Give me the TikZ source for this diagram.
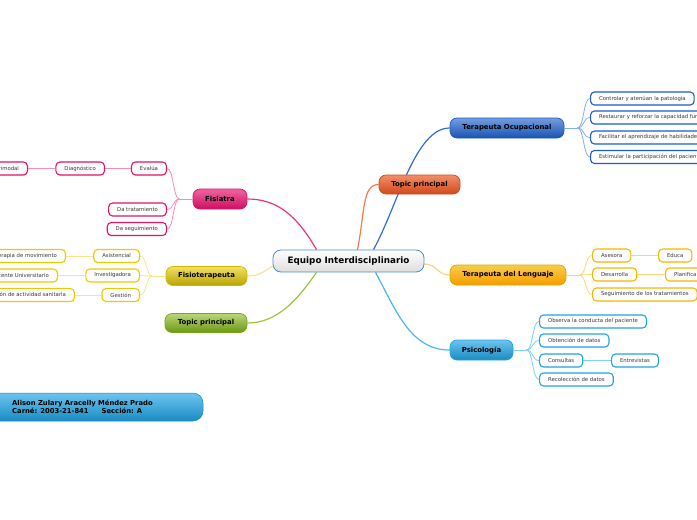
\documentclass[tikz,border=0pt]{standalone}
\usepackage{fontspec}
\setmainfont{DejaVu Sans}
\usetikzlibrary{backgrounds}
\definecolor{toB}{HTML}{1A5CC8}
\definecolor{toL}{HTML}{7FAEEF}
\definecolor{orB}{HTML}{D04A1C}
\definecolor{orL}{HTML}{F27A4E}
\definecolor{tlB}{HTML}{F5B800}
\definecolor{tlL}{HTML}{FBD47E}
\definecolor{psB}{HTML}{1EA4E6}
\definecolor{psL}{HTML}{7ED0F6}
\definecolor{fiB}{HTML}{E4106C}
\definecolor{fiL}{HTML}{F68DB6}
\definecolor{ftB}{HTML}{E8CC00}
\definecolor{ftL}{HTML}{F6E58C}
\definecolor{grB}{HTML}{78A818}
\definecolor{grL}{HTML}{9CC63A}
\definecolor{ctB}{HTML}{4A8CC8}
\begin{document}
\begin{tikzpicture}[x=1pt,y=-1pt,
  topic/.style={rounded corners=7pt, minimum height=20pt, inner sep=0pt,
    font=\fontsize{6.9}{8}\selectfont\bfseries, line width=0.7pt},
  sub/.style={rounded corners=4pt, minimum height=13pt, inner xsep=8.5pt, inner ysep=0pt,
    fill=white, line width=1.1pt, font=\fontsize{5.35}{6}\selectfont, text=black!78},
  mainline/.style={line width=1.2pt},
  subline/.style={line width=0.8pt}]
\useasboundingbox (0,0) rectangle (697,520);
\clip (0,0) rectangle (697,520);

% central
\node[rounded corners=8pt, minimum width=151pt, minimum height=22pt, inner sep=0pt,
  top color=white, bottom color=black!13, draw=ctB, line width=0.8pt,
  font=\fontsize{8.8}{10}\selectfont\bfseries] (c) at (348.5,261) {Equipo Interdisciplinario};

% main topics
\node[topic, minimum width=114pt, top color=toB!60!white, bottom color=toB!90!black, draw=toB] (to) at (507,128) {Terapeuta Ocupacional};
\node[topic, minimum width=81pt, minimum height=19pt, top color=orL!85!white, bottom color=orB, draw=orB] (op) at (419.5,184.5) {Topic principal};
\node[topic, minimum width=116pt, top color=tlB!70!white, bottom color=tlB!85!red, draw=tlB!90!black] (tl) at (508,275) {Terapeuta del Lenguaje};
\node[topic, minimum width=63pt, top color=psB!65!white, bottom color=psB!85!black, draw=psB] (ps) at (481.5,350) {Psicología};
\node[topic, minimum width=54pt, top color=fiB!65!white, bottom color=fiB!90!black, draw=fiB] (fi) at (220,199) {Fisiatra};
\node[topic, minimum width=81pt, minimum height=19pt, top color=ftB!60!white, bottom color=ftB!80!black, draw=ftB!90!black] (ft) at (206.5,276) {Fisioterapeuta};
\node[topic, minimum width=82pt, minimum height=19pt, top color=grL!70!white, bottom color=grB!90!black, draw=grB] (gr) at (206,323) {Topic principal};

% author box
\node[rounded corners=10pt, minimum width=213pt, minimum height=28pt, inner sep=0pt,
  top color=psB!65!white, bottom color=psB!85!black, draw=psB!85!black, line width=0.5pt] (au) at (96.5,407) {};
\node[anchor=west, align=left, inner sep=0pt, font=\fontsize{6.8}{8.4}\selectfont\bfseries] (aut) at (12,407)
  {Alison Zulary Aracelly Méndez Prado\\Carné: 2003-21-841\hspace{13pt}Sección: A};

% main connectors (behind nodes)
\begin{pgfonlayer}{background}
\draw[mainline, toB!90!white] ([xshift=25pt]c.north) .. controls (398,205) and (415,128) .. (to.west);
\draw[mainline, orL] ([xshift=9pt]c.north) .. controls (365,212) and (362,184.5) .. (op.west);
\draw[mainline, tlL] ([yshift=-3pt]c.east) .. controls (437,264) and (437,275) .. (tl.west);
\draw[mainline, psB!80!white] ([xshift=27pt]c.south) .. controls (396,310) and (410,350) .. (ps.west);
\draw[mainline, fiB!85!white] ([xshift=-32pt]c.north) .. controls (296,214) and (276,199) .. (fi.east);
\draw[mainline, ftL] ([yshift=-5pt]c.west) .. controls (262,273) and (258,276) .. (ft.east);
\draw[mainline, grL] ([xshift=-32pt]c.south) .. controls (296,302) and (276,323) .. (gr.east);
\end{pgfonlayer}

% Terapeuta Ocupacional subs
\node[sub, draw=toB, anchor=west] (to1) at (590,98.5) {Controlar y atenúan la patología};
\node[sub, draw=toB, anchor=west] (to2) at (590,117.5) {Restaurar y reforzar la capacidad funcional};
\node[sub, draw=toB, anchor=west] (to3) at (590,137.5) {Facilitar el aprendizaje de habilidades};
\node[sub, draw=toB, anchor=west] (to4) at (590,157) {Estimular la participación del paciente};
\draw[subline, toL] (to.east) -- ++(13,0) coordinate (tob);
\foreach \n in {to1,to2,to3,to4}
  \draw[subline, toL] (tob) .. controls +(7,0) and +(-7,0) .. (\n.west);

% Terapeuta del Lenguaje subs
\node[sub, draw=tlB, anchor=west] (tl1) at (592,255.5) {Asesora};
\node[sub, draw=tlB, anchor=west] (tl1a) at (658,255.5) {Educa};
\node[sub, draw=tlB, anchor=west] (tl2) at (592,274.5) {Desarrolla};
\node[sub, draw=tlB, anchor=west] (tl2a) at (665,274.5) {Planifica};
\node[sub, draw=tlB, anchor=west] (tl3) at (592,294.5) {Seguimiento de los tratamientos};
\draw[subline, tlL] (tl.east) -- ++(13,0) coordinate (tlb);
\foreach \n in {tl1,tl2,tl3}
  \draw[subline, tlL] (tlb) .. controls +(7,0) and +(-7,0) .. (\n.west);
\draw[subline, tlL] (tl1.east) -- (tl1a.west);
\draw[subline, tlL] (tl2.east) -- (tl2a.west);

% Psicologia subs
\node[sub, draw=psB, anchor=west] (ps1) at (539,321.5) {Observa la conducta del paciente};
\node[sub, draw=psB, anchor=west] (ps2) at (539,340.5) {Obtención de datos};
\node[sub, draw=psB, anchor=west] (ps3) at (539,360.5) {Consultas};
\node[sub, draw=psB, anchor=west] (ps3a) at (611,360.5) {Entrevistas};
\node[sub, draw=psB, anchor=west] (ps4) at (539,379.5) {Recolección de datos};
\draw[subline, psL] (ps.east) -- ++(13,0) coordinate (psb);
\foreach \n in {ps1,ps2,ps3,ps4}
  \draw[subline, psL] (psb) .. controls +(7,0) and +(-7,0) .. (\n.west);
\draw[subline, psL] (ps3.east) -- (ps3a.west);

% Fisiatra subs
\node[sub, draw=fiB, anchor=east] (fi1) at (167,168.5) {Evalúa};
\node[sub, draw=fiB, anchor=east] (fi1a) at (105,168.5) {Diagnóstico};
\node[sub, draw=fiB, anchor=east] (fi1b) at (28,168.5) {Primodal};
\node[sub, draw=fiB, anchor=east] (fi2) at (167,209.5) {Da tratamiento};
\node[sub, draw=fiB, anchor=east] (fi3) at (167,229) {Da seguimiento};
\draw[subline, fiL] (fi.west) -- ++(-13,0) coordinate (fib);
\foreach \n in {fi1,fi2,fi3}
  \draw[subline, fiL] (fib) .. controls +(-7,0) and +(7,0) .. (\n.east);
\draw[subline, fiL] (fi1.west) -- (fi1a.east);
\draw[subline, fiL] (fi1a.west) -- (fi1b.east);

% Fisioterapeuta subs
\node[sub, draw=ftB, anchor=east] (ft1) at (140,256) {Asistencial};
\node[sub, draw=ftB, anchor=east] (ft1a) at (66,256) {Terapia de movimiento};
\node[sub, draw=ftB, anchor=east] (ft2) at (140,275.5) {Investigadora};
\node[sub, draw=ftB, anchor=east] (ft2a) at (58,275.5) {Docente Universitario};
\node[sub, draw=ftB, anchor=east] (ft3) at (140,295) {Gestión};
\node[sub, draw=ftB, anchor=east] (ft3a) at (75,295) {Organización de actividad sanitaria};
\draw[subline, ftL] (ft.west) -- ++(-13,0) coordinate (ftb);
\foreach \n in {ft1,ft2,ft3}
  \draw[subline, ftL] (ftb) .. controls +(-7,0) and +(7,0) .. (\n.east);
\draw[subline, ftL] (ft1.west) -- (ft1a.east);
\draw[subline, ftL] (ft2.west) -- (ft2a.east);
\draw[subline, ftL] (ft3.west) -- (ft3a.east);
\end{tikzpicture}
\end{document}
